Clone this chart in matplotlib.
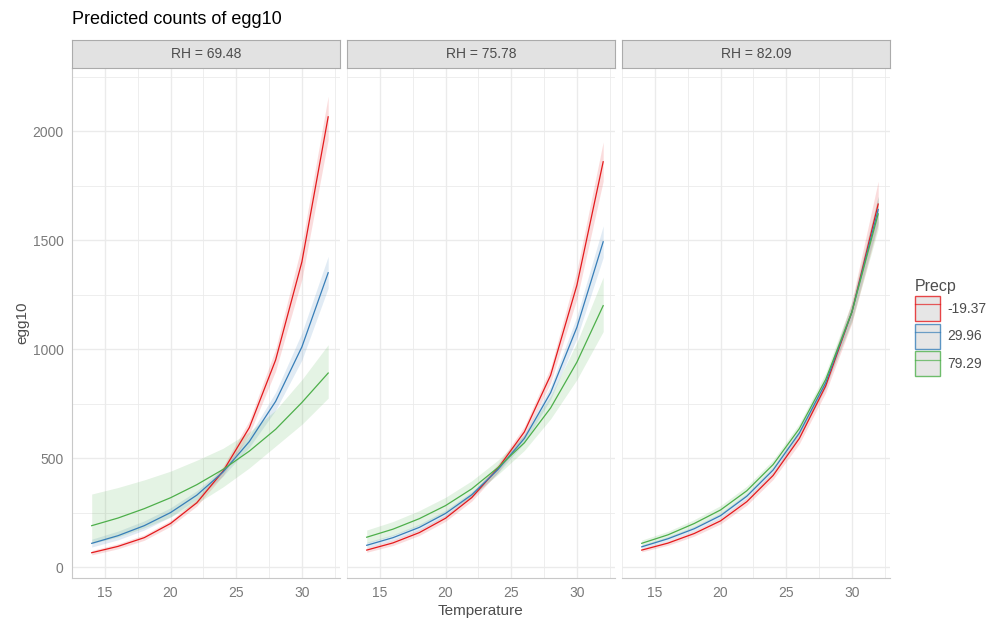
import matplotlib.pyplot as plt
import numpy as np
from matplotlib.patches import Patch
from matplotlib.lines import Line2D

plt.rcParams['font.family'] = ['Liberation Sans', 'DejaVu Sans']

temperature = [14, 16, 18, 20, 22, 24, 26, 28, 30, 32]
rh_labels = ["RH = 69.48", "RH = 75.78", "RH = 82.09"]
precp_labels = ["-19.37", "29.96", "79.29"]
colors = ["#E41A1C", "#377EB8", "#4DAF4A"]

# predicted values, per panel, per Precp level
pred_p1 = [
    [66, 95, 135, 200, 295, 440, 640, 950, 1400, 2065],
    [109, 144, 190, 250, 330, 436, 576, 760, 1010, 1350],
    [190, 225, 268, 318, 378, 448, 532, 632, 755, 890],
]
low_p1 = [
    [56, 84, 123, 187, 280, 420, 610, 900, 1320, 1960],
    [92, 125, 170, 230, 312, 418, 550, 720, 950, 1280],
    [108, 138, 180, 230, 292, 368, 455, 555, 655, 775],
]
high_p1 = [
    [76, 107, 148, 214, 311, 462, 672, 1000, 1480, 2160],
    [128, 165, 212, 272, 350, 455, 603, 802, 1075, 1425],
    [335, 365, 400, 440, 490, 545, 620, 720, 860, 1020],
]

pred_p2 = [
    [78, 111, 158, 224, 319, 454, 620, 880, 1293, 1859],
    [100, 135, 182, 246, 332, 448, 590, 800, 1100, 1492],
    [137, 174, 222, 282, 359, 457, 570, 730, 940, 1199],
]
low_p2 = [
    [68, 99, 145, 210, 303, 435, 595, 845, 1230, 1770],
    [88, 122, 168, 232, 318, 432, 570, 770, 1050, 1420],
    [110, 145, 190, 248, 325, 425, 535, 680, 860, 1080],
]
high_p2 = [
    [89, 124, 172, 239, 335, 473, 645, 915, 1360, 1950],
    [114, 149, 197, 261, 346, 464, 610, 830, 1150, 1565],
    [170, 209, 259, 320, 396, 491, 607, 785, 1030, 1330],
]

pred_p3 = [
    [78, 110, 154, 212, 300, 420, 590, 830, 1170, 1665],
    [93, 130, 176, 236, 325, 445, 615, 845, 1170, 1640],
    [109, 148, 200, 262, 350, 470, 635, 860, 1170, 1620],
]
low_p3 = [
    [70, 100, 142, 198, 284, 402, 566, 800, 1120, 1570],
    [85, 120, 165, 224, 312, 430, 597, 820, 1135, 1580],
    [96, 133, 183, 243, 330, 450, 612, 832, 1125, 1550],
]
high_p3 = [
    [86, 120, 166, 226, 316, 438, 614, 860, 1220, 1770],
    [102, 140, 187, 248, 338, 460, 633, 870, 1205, 1700],
    [124, 164, 218, 282, 371, 491, 658, 890, 1215, 1700],
]

panels = [(pred_p1, low_p1, high_p1), (pred_p2, low_p2, high_p2), (pred_p3, low_p3, high_p3)]

W, H = 992, 620
fig = plt.figure(figsize=(W / 100, H / 100), dpi=100)

panel_left = [72, 347, 622]
panel_w = 268
top, bottom = 68, 578
grid_c = "#EBEBEB"
tick_c = "#7A7A7A"
text_c = "#4D4D4D"

for i, (pred, low, high) in enumerate(panels):
    ax = fig.add_axes([panel_left[i] / W, 1 - bottom / H, panel_w / W, (bottom - top) / H])
    for k in range(3):
        ax.fill_between(temperature, low[k], high[k], color=colors[k], alpha=0.15, lw=0)
        ax.plot(temperature, pred[k], color=colors[k], lw=0.9)
    ax.set_xlim(13.1, 32.9)
    ax.set_ylim(-50, 2289)
    ax.set_xticks([15, 20, 25, 30])
    ax.set_xticks([12.5, 17.5, 22.5, 27.5, 32.5], minor=True)
    ax.set_yticks([0, 500, 1000, 1500, 2000])
    ax.set_yticks([250, 750, 1250, 1750, 2250], minor=True)
    ax.grid(True, which='major', color=grid_c, lw=1.0)
    ax.grid(True, which='minor', color=grid_c, lw=0.6)
    ax.set_axisbelow(True)
    ax.tick_params(which='both', length=0, labelsize=10, colors=tick_c, pad=6)
    for s in ['top', 'right']:
        ax.spines[s].set_visible(False)
    ax.spines['bottom'].set_color("#C8C8C8")
    if i == 0:
        ax.spines['left'].set_color("#C8C8C8")
    else:
        ax.spines['left'].set_visible(False)
        ax.set_yticklabels([])

    # strip
    sax = fig.add_axes([panel_left[i] / W, 1 - 68 / H, panel_w / W, 28 / H])
    sax.set_facecolor("#E2E2E2")
    sax.set_xticks([])
    sax.set_yticks([])
    for s in sax.spines.values():
        s.set_color("#ABABAB")
    sax.text(0.5, 0.5, rh_labels[i], ha='center', va='center', fontsize=10, color=text_c,
             transform=sax.transAxes)

fig.text(72 / W, 1 - 20 / H, "Predicted counts of egg10", fontsize=13, color="black", va='center')
fig.text(22 / W, 1 - 323 / H, "egg10", fontsize=11, color=text_c, rotation=90, va='center', ha='center')
fig.text(481 / W, 1 - 611 / H, "Temperature", fontsize=11, color=text_c, ha='center', va='center')

handles = [(Patch(facecolor="#E0E0E0", edgecolor=c, lw=1.0, alpha=0.8),
            Line2D([], [], color=c, lw=0.9, alpha=0.7)) for c in colors]
leg = fig.legend(handles, precp_labels, loc='upper left', bbox_to_anchor=(902 / W, 1 - 266 / H),
                 title="Precp", frameon=False, fontsize=10, title_fontsize=11.5,
                 handlelength=1.87, handleheight=2.4, labelspacing=0.18, handletextpad=0.5,
                 alignment='left')
leg.get_title().set_color(text_c)
for t in leg.get_texts():
    t.set_color(text_c)

fig.savefig("out.png", dpi=100)
